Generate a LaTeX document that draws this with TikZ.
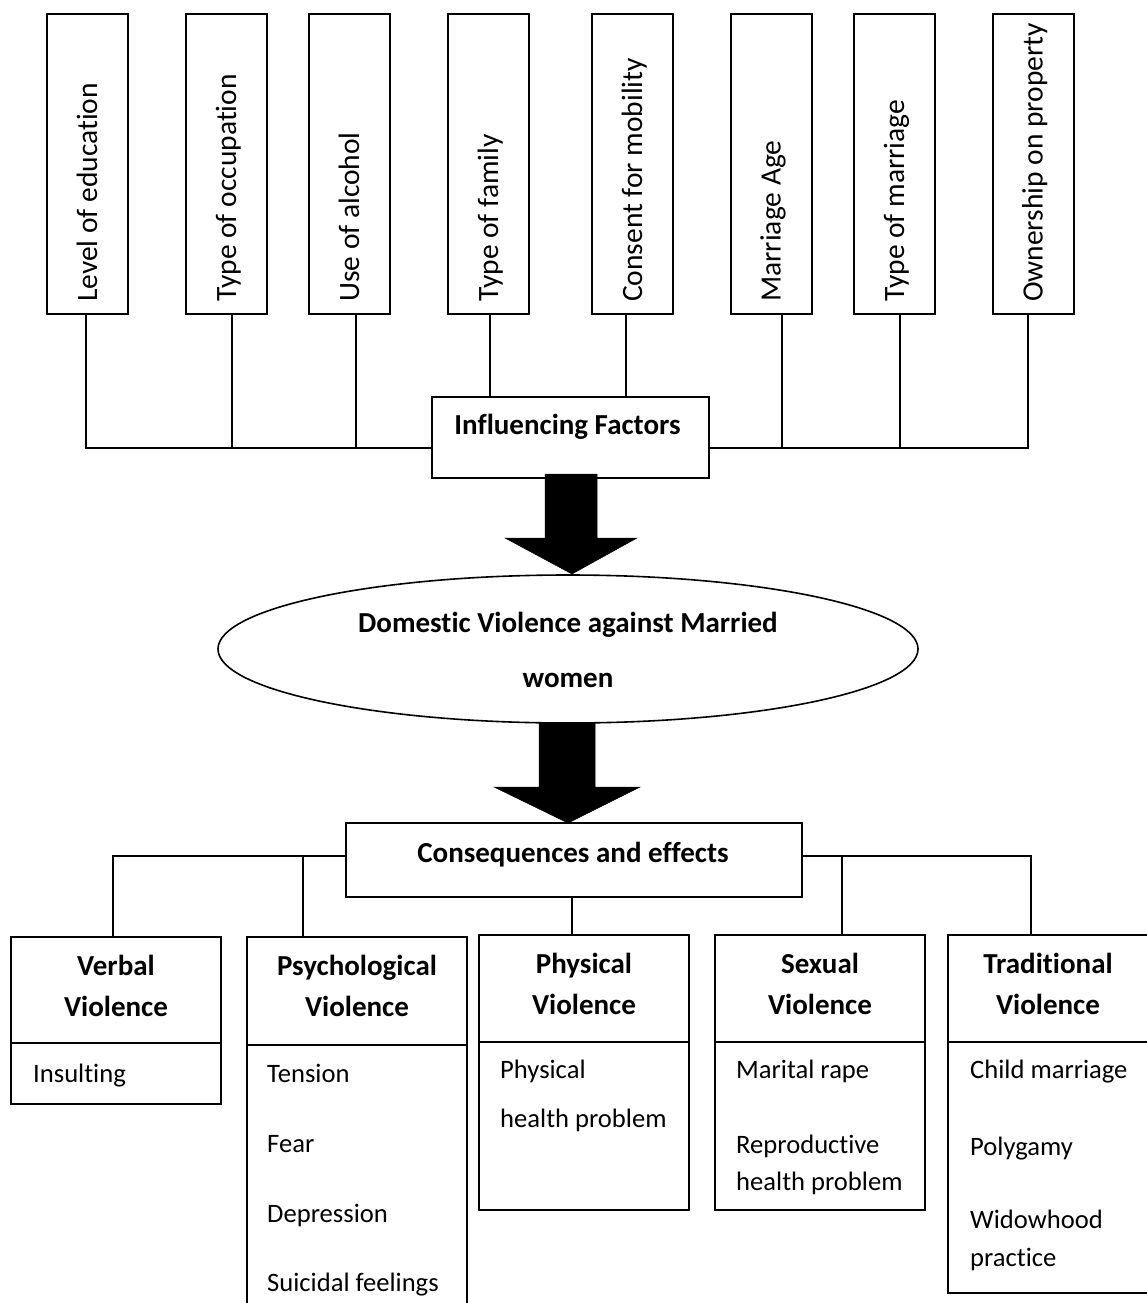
\documentclass[tikz,border=0pt]{standalone}
\usepackage{fontspec}
\setmainfont{Carlito}[Ligatures=NoCommon]
\usetikzlibrary{shapes.geometric,calc}
\begin{document}
\begin{tikzpicture}[x=1pt,y=-1pt,
  box/.style={draw, line width=2pt, inner sep=0pt},
  rtxt/.style={rotate=90, anchor=base west, inner sep=0pt, font=\fontsize{29.5}{34}\selectfont},
  btxt/.style={anchor=base, inner sep=0pt, font=\bfseries\fontsize{29}{34}\selectfont},
  itxt/.style={anchor=base west, inner sep=0pt, font=\fontsize{26.6}{31}\selectfont},
  conn/.style={line width=2.4pt},
  connb/.style={line width=1.7pt},
  blockarrow/.style={fill=black, draw=black, line width=0.5pt}
]
\useasboundingbox (0,0) rectangle (1147,1303);

% ---------- top factor boxes ----------
\foreach \n/\cx/\t in {1/87.5/Level of education, 2/226.5/Type of occupation, 3/349.5/Use of alcohol,
  4/488.5/Type of family, 5/632.5/Consent for mobility, 6/771/Marriage Age,
  7/894.5/Type of marriage, 8/1033/Ownership on property}{
  \node[box, minimum width=81pt, minimum height=300pt] (f\n) at (\cx,164) {};
  \node[rtxt] (ft\n) at (\cx+9.5,302) {\t};
}

% ---------- influencing factors ----------
\node[box, minimum width=277pt, minimum height=81pt] (inf) at (570.5,437.5) {};
\node[btxt] (inflbl) at (567.5,434) {Influencing Factors};

\coordinate (jl) at (432,448);
\coordinate (jr) at (709,448);
\coordinate (s1) at ([xshift=-1.5pt]f1.south);
\coordinate (s2) at ([xshift=5.5pt]f2.south);
\coordinate (s3) at ([xshift=6.5pt]f3.south);
\coordinate (s4) at ([xshift=1.5pt]f4.south);
\coordinate (s5) at ([xshift=-6.5pt]f5.south);
\coordinate (s6) at ([xshift=11pt]f6.south);
\coordinate (s7) at ([xshift=5.5pt]f7.south);
\coordinate (s8) at ([xshift=-5pt]f8.south);
\draw[conn] (s1) |- (jl);
\draw[conn] (s2) -- (s2 |- jl);
\draw[conn] (s3) -- (s3 |- jl);
\draw[conn] (s4) -- (s4 |- inf.north);
\draw[conn] (s5) -- (s5 |- inf.north);
\draw[conn] (s8) |- (jr);
\draw[conn] (s6) -- (s6 |- jr);
\draw[conn] (s7) -- (s7 |- jr);

% ---------- block arrow 1 ----------
\draw[blockarrow] (545,474) -- (597,474) -- (597,538) -- (637,538) -- (572,574) -- (505,538) -- (545,538) -- cycle;

% ---------- ellipse ----------
\node[draw, ellipse, line width=1.6pt, minimum width=700pt, minimum height=148pt, inner sep=0pt] (dv) at (568,649) {};
\node[btxt] (dv1) at (568,632) {Domestic Violence against Married};
\node[btxt] (dv2) at (568,687) {women};

% ---------- block arrow 2 ----------
\draw[blockarrow] (539,723) -- (595,723) -- (595,787) -- (640,787) -- (568,823) -- (494,787) -- (539,787) -- cycle;

% ---------- consequences ----------
\node[box, minimum width=456pt, minimum height=74pt] (cons) at (574,860) {};
\node[btxt] (conslbl) at (573,862) {Consequences and effects};

% ---------- lower boxes ----------
\node[box, minimum width=210pt, minimum height=106pt] (vh) at (116,990) {};
\node[box, minimum width=210pt, minimum height=61pt] (vs) at (116,1073.5) {};
\node[box, minimum width=220pt, minimum height=108pt] (ph) at (357,991) {};
\node[box, minimum width=220pt, minimum height=275pt] (ps) at (357,1182.5) {};
\node[box, minimum width=210pt, minimum height=107pt] (yh) at (584,988.5) {};
\node[box, minimum width=210pt, minimum height=168pt] (ys) at (584,1126) {};
\node[box, minimum width=210pt, minimum height=107pt] (sh) at (820,988.5) {};
\node[box, minimum width=210pt, minimum height=168pt] (ss) at (820,1126) {};
\node[box, minimum width=200pt, minimum height=107pt] (th) at (1048,988.5) {};
\node[box, minimum width=200pt, minimum height=251pt] (ts) at (1048,1167.5) {};

% connectors below
\coordinate (hL) at ([yshift=4pt]cons.west);
\coordinate (hR) at ([yshift=4pt]cons.east);
\coordinate (cv) at ([xshift=-3pt]vh.north);
\coordinate (cp) at ([xshift=-54pt]ph.north);
\coordinate (cy) at ([xshift=-12pt]yh.north);
\coordinate (cs) at ([xshift=22pt]sh.north);
\coordinate (ct) at ([xshift=-17pt]th.north);
\draw[connb] (cv) |- (hL);
\draw[connb] (cp) -- (cp |- hL);
\draw[connb] (ct) |- (hR);
\draw[connb] (cs) -- (cs |- hR);
\draw[connb] ([xshift=-2pt]cons.south) -- (cy);

% header texts
\node[btxt] (vh1) at (116,975) {Verbal};
\node[btxt] (vh2) at (116,1016) {Violence};
\node[btxt] (ph1) at (357,975) {Psychological};
\node[btxt] (ph2) at (357,1016) {Violence};
\node[btxt] (yh1) at (584,973) {Physical};
\node[btxt] (yh2) at (584,1014) {Violence};
\node[btxt] (sh1) at (820,973) {Sexual};
\node[btxt] (sh2) at (820,1014) {Violence};
\node[btxt] (th1) at (1048,973) {Traditional};
\node[btxt] (th2) at (1048,1014) {Violence};

% items
\node[itxt] (vi1) at (33,1082) {Insulting};
\node[itxt] (pi1) at (267,1082) {Tension};
\node[itxt] (pi2) at (267,1152) {Fear};
\node[itxt] (pi3) at (267,1222) {Depression};
\node[itxt] (pi4) at (267,1291) {Suicidal feelings};
\node[itxt] (yi1) at (500,1078) {Physical};
\node[itxt] (yi2) at (500,1127) {health problem};
\node[itxt] (si1) at (736,1078) {Marital rape};
\node[itxt] (si2) at (736,1153) {Reproductive};
\node[itxt] (si3) at (736,1190) {health problem};
\node[itxt] (ti1) at (970,1078) {Child marriage};
\node[itxt] (ti2) at (970,1155) {Polygamy};
\node[itxt] (ti3) at (970,1228) {Widowhood};
\node[itxt] (ti4) at (970,1266) {practice};
\end{tikzpicture}
\end{document}
